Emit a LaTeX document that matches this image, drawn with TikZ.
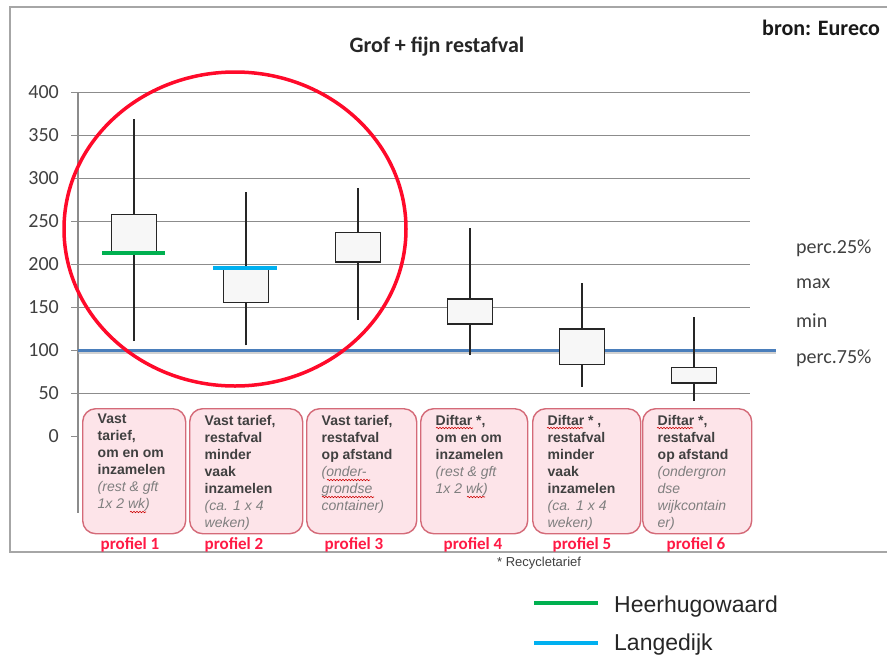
\documentclass[tikz,border=0pt]{standalone}
\usepackage{fontspec}
\setmainfont{Liberation Sans}
\newfontfamily\calibri{Carlito}
\usetikzlibrary{positioning,decorations.pathmorphing}

\definecolor{gridgray}{HTML}{8C8C8C}
\definecolor{framegray}{HTML}{A6A6A6}
\definecolor{textgray}{HTML}{404040}
\definecolor{notegray}{HTML}{7F7F7F}
\definecolor{hhwgreen}{HTML}{00B050}
\definecolor{ldcyan}{HTML}{00B0F0}
\definecolor{normblue}{HTML}{4A7EBB}
\definecolor{ringred}{HTML}{FF0A2A}
\definecolor{profpink}{HTML}{FDE4E9}
\definecolor{profedge}{HTML}{D46A78}
\definecolor{profred}{HTML}{FF1A45}

\newcommand{\note}[1]{{\mdseries\itshape\color{notegray}#1}}

\begin{document}
\begin{tikzpicture}[x=1pt,y=-1pt,
    gridline/.style={draw=gridgray,line width=1.3pt},
    ticklabel/.style={anchor=east,font=\calibri\fontsize{20}{22}\selectfont,text=textgray,inner sep=0pt},
    pctlabel/.style={anchor=west,font=\calibri\fontsize{20}{22}\selectfont,text=textgray,inner sep=0pt},
    whisker/.style={draw=black!85,line width=1.3pt},
    quartbox/.style={draw=black!85,fill=black!3,line width=1.5pt},
    greenmark/.style={draw=hhwgreen,line width=4pt},
    cyanmark/.style={draw=ldcyan,line width=4pt},
    profbox/.style={draw=profedge,fill=profpink,line width=1.4pt,rounded corners=13pt,
      anchor=north west,minimum height=125pt,inner sep=0pt},
    proftext/.style={anchor=north west,align=left,inner sep=0pt,text=textgray,
      font=\fontsize{14}{17}\selectfont\bfseries},
    proflabel/.style={font=\calibri\bfseries\fontsize{17}{19}\selectfont,text=profred,inner sep=0pt},
    spellmark/.style={draw=red!80!black,line width=0.6pt,decorate,
      decoration={snake,amplitude=0.7pt,segment length=3pt}},
    legendtext/.style={anchor=west,font=\fontsize{23}{26}\selectfont,text=black!85,inner sep=0pt}]

  \useasboundingbox (0,0) rectangle (887,657);

  % frame round the chart
  \draw[framegray,line width=1.5pt] (900,7) -- (10,7) -- (10,552) -- (900,552);

  \node[font=\calibri\bfseries\fontsize{22}{24}\selectfont,text=black!85] (title) at (437,47) {Grof + fijn restafval};
  \node[font=\calibri\bfseries\fontsize{22}{24}\selectfont,text=black!90,anchor=west,inner sep=0pt] (bron) at (762,28) {bron: Eureco};

  % chart in data units
  \begin{scope}[shift={(0,436.5)},y=0.86pt]
    \foreach \v in {50,100,...,400}{
      \draw[gridline] (71,\v) -- (750,\v);
      \node[ticklabel] (tick\v) at (59,\v) {\v};
    }
    \draw[gridline] (71,0) -- (78,0);
    \node[ticklabel] (tick0) at (59,0) {0};
    \draw[gridline] (78,400) -- (78,-89);

    % norm line
    \draw[black!30,line width=3pt,opacity=0.6] (78,97.5) -- (776,97.5);
    \draw[normblue,line width=3.5pt] (78,100) -- (776,100);

    % box plots: x / min / q1 / q3 / max
    \foreach \x/\lo/\qa/\qb/\hi in {134/111/213/258/369, 246/106/156/196/284,
        358/136/203/237/289, 470/95/131/160/243, 582/58/84/125/178, 694/41/62/80/139}{
      \draw[whisker] (\x,\lo) -- (\x,\hi);
      \draw[quartbox] ({\x-22.5},\qa) rectangle ({\x+22.5},\qb);
    }
    \draw[greenmark] (102,213) -- (165,213);
    \draw[cyanmark] (213,196) -- (277,196);
  \end{scope}

  \node[pctlabel] (p25) at (796,248) {perc.25\%};
  \node[pctlabel] (pmax) at (796,284) {max};
  \node[pctlabel] (pmin) at (796,321) {min};
  \node[pctlabel] (p75) at (796,358) {perc.75\%};

  \draw[ringred,line width=3.5pt] (235,229) ellipse [x radius=171pt,y radius=157pt];

  % profile boxes
  \node[profbox,minimum width=103pt] (b1) at (82,408) {};
  \node[profbox,minimum width=113pt] (b2) at (189,408) {};
  \node[profbox,minimum width=110pt] (b3) at (306,408) {};
  \node[profbox,minimum width=107pt] (b4) at (420,408) {};
  \node[profbox,minimum width=108pt] (b5) at (532,408) {};
  \node[profbox,minimum width=109pt] (b6) at (642,408) {};

  \node[proftext] (t1) at ([xshift=15.5pt,yshift=-6pt]b1.north west)
    {Vast\\tarief,\\om en om\\inzamelen\\\note{(rest \& gft}\\\note{1x 2 wk)}};
  \node[proftext] (t2) at ([xshift=15.5pt,yshift=-7pt]b2.north west)
    {Vast tarief,\\restafval\\minder\\vaak\\inzamelen\\\note{(ca. 1 x 4}\\\note{weken)}};
  \node[proftext] (t3) at ([xshift=15.5pt,yshift=-7pt]b3.north west)
    {Vast tarief,\\restafval\\op afstand\\\note{(onder-}\\\note{grondse}\\\note{container)}};
  \node[proftext] (t4) at ([xshift=15.5pt,yshift=-7pt]b4.north west)
    {Diftar *,\\om en om\\inzamelen\\\note{(rest \& gft}\\\note{1x 2 wk)}};
  \node[proftext] (t5) at ([xshift=15.5pt,yshift=-7pt]b5.north west)
    {Diftar * ,\\restafval\\minder\\vaak\\inzamelen\\\note{(ca. 1 x 4}\\\note{weken)}};
  \node[proftext] (t6) at ([xshift=15.5pt,yshift=-7pt]b6.north west)
    {Diftar *,\\restafval\\op afstand\\\note{(ondergron}\\\note{dse}\\\note{wijkcontain}\\\note{er)}};

  % spelling marks
  \draw[spellmark] (130,512) -- (146,512);
  \draw[spellmark] (327,480) -- (370,480);
  \draw[spellmark] (322,497) -- (374,497);
  \draw[spellmark] (467,497) -- (485,497);
  \draw[spellmark] (436,428) -- (473,428);
  \draw[spellmark] (547,428) -- (583,428);
  \draw[spellmark] (657,428) -- (693,428);

  \node[proflabel] (l1) at (130,545) {profiel 1};
  \node[proflabel] (l2) at (234,545) {profiel 2};
  \node[proflabel] (l3) at (354,545) {profiel 3};
  \node[proflabel] (l4) at (473,545) {profiel 4};
  \node[proflabel] (l5) at (582,545) {profiel 5};
  \node[proflabel] (l6) at (696,545) {profiel 6};

  \node[anchor=west,inner sep=0pt,font=\fontsize{13}{15}\selectfont,text=textgray] (star) at (497,563) {* Recycletarief};

  % legend
  \coordinate (g1) at (534,603);
  \coordinate (g2) at (598,603);
  \coordinate (c1) at (534,643);
  \coordinate (c2) at (598,643);
  \draw[greenmark] (g1) -- (g2);
  \draw[cyanmark] (c1) -- (c2);
  \node[legendtext] (hhw) at (614,607) {Heerhugowaard};
  \node[legendtext] (lgd) at (614,645) {Langedijk};
\end{tikzpicture}
\end{document}
